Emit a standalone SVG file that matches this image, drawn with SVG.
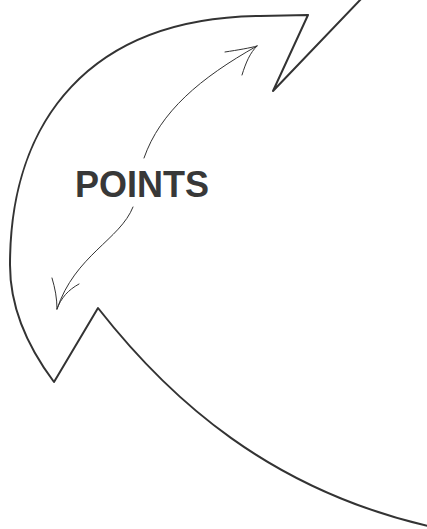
<svg xmlns="http://www.w3.org/2000/svg" width="427" height="529" viewBox="0 0 427 529">
<style>
.outline{fill:none;stroke:#333;stroke-width:2;stroke-linejoin:round;stroke-linecap:round}
.thin{fill:none;stroke:#333;stroke-width:1;stroke-linecap:round}
.lbl{font-family:"Liberation Sans",Arial,sans-serif;font-weight:bold;font-size:36px;fill:#383838}
</style>
<rect width="427" height="529" fill="#fff"/>
<g id="big-arrow">
<path class="outline" d="M362,-2 L273,91 L308,15 L260,16 C90,18 10,120 10,265 C10,310 30,350 54,382 L98,308 C170,400 270,490 432,527"/>
</g>
<g id="label">
<text class="lbl" x="75" y="197">POINTS</text>
</g>
<g id="connectors">
<path class="thin" d="M144,158 C160,112 200,78 257,46"/>
<path class="thin" d="M225,52 C238,50 250,48 257,46"/>
<path class="thin" d="M242,75 C246,62 250,53 257,46"/>
<path class="thin" d="M133,207 C120,240 75,255 57,309"/>
<path class="thin" d="M52,278 C55,288 57,298 57,309"/>
<path class="thin" d="M79,284 C68,290 61,298 57,309"/>
</g>
</svg>
